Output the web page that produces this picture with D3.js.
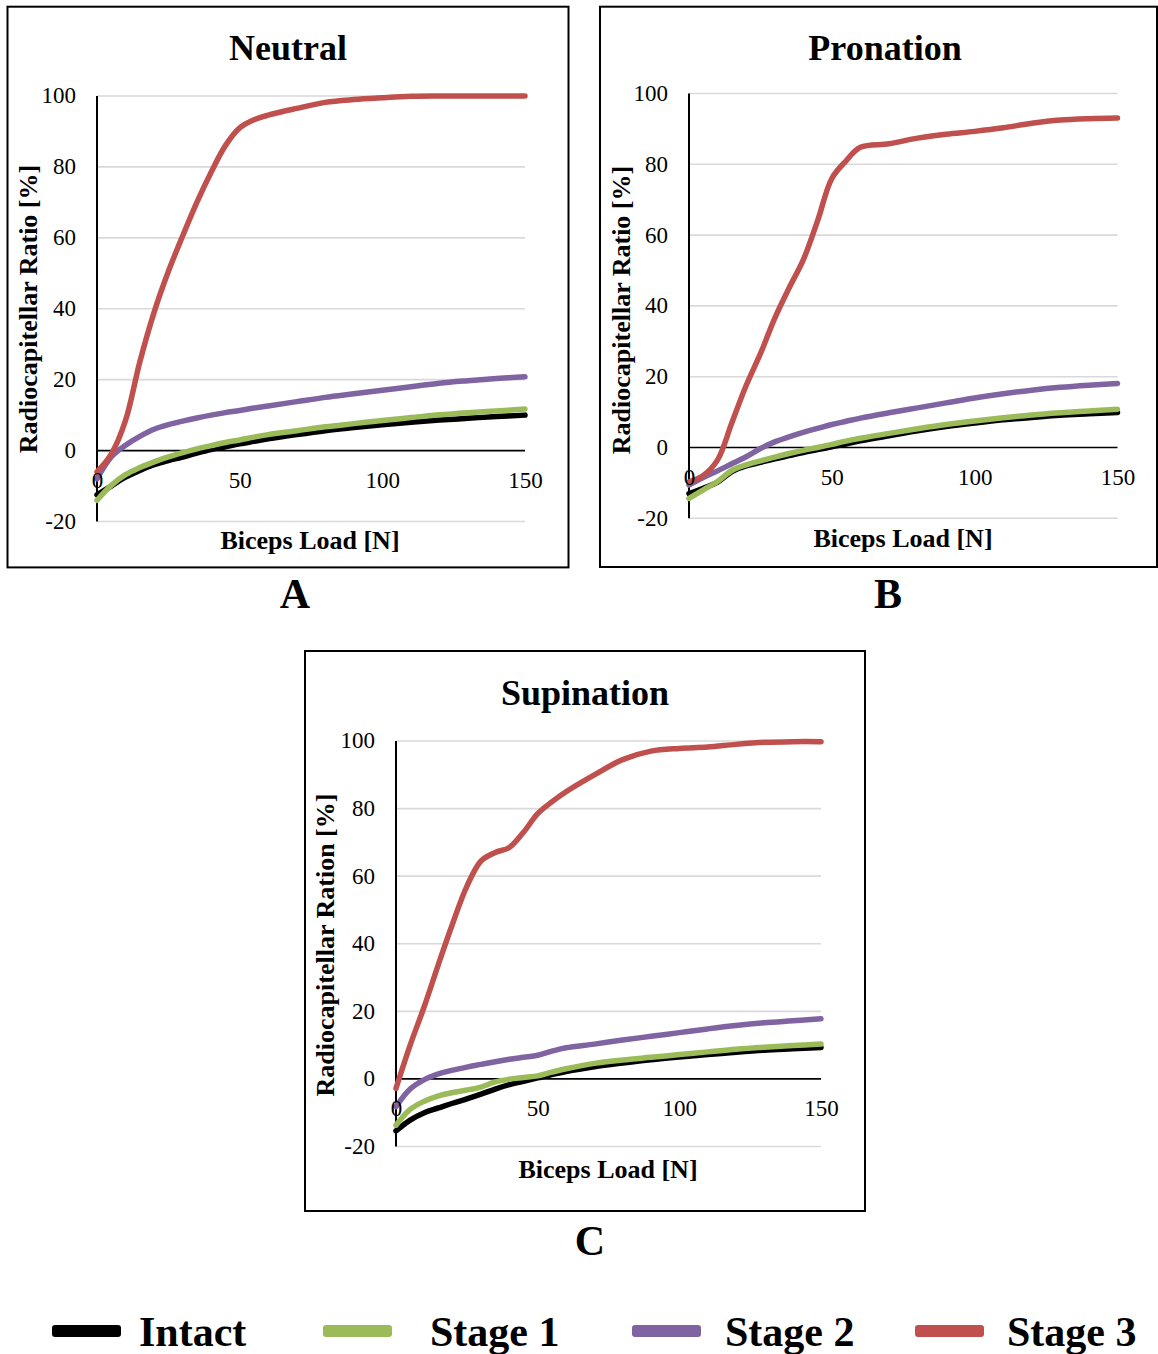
<!DOCTYPE html>
<html>
<head>
<meta charset="utf-8">
<script src="https://cdn.jsdelivr.net/npm/d3@7"></script>
<style>
    body { margin: 0; background: #fff; }
    text { font-family: "Liberation Serif", "Times New Roman", serif; fill: #000; }
</style>
</head>
<body>
<svg id="chart" width="1158" height="1354"></svg>
<script>
/*****************************************************************************
 *  Data
 */
var LOADS = [0, 5, 10, 15, 20, 25, 30, 35, 40, 45, 50, 55, 60, 70, 80, 90, 100, 110, 120, 130, 140, 150];
var X_TICKS = [0, 50, 100, 150];
var Y_TICKS = [-20, 0, 20, 40, 60, 80, 100];
var SERIES_NAMES = ["Intact", "Stage 1", "Stage 2", "Stage 3"];

// Neutral
var NEUTRAL_INTACT = [-12.5, -10, -7.5, -5.6, -4, -2.8, -1.8, -0.7, 0.3, 1.1, 1.9, 2.6, 3.3, 4.5, 5.6, 6.5, 7.3, 8, 8.6, 9.1, 9.6, 10];
var NEUTRAL_STAGE1 = [-14, -9.8, -6.8, -4.8, -3.2, -1.8, -0.6, 0.5, 1.4, 2.3, 3, 3.8, 4.5, 5.6, 6.7, 7.6, 8.5, 9.3, 10.1, 10.7, 11.2, 11.7];
var NEUTRAL_STAGE2 = [-8, -1.8, 1.5, 4, 6, 7.3, 8.3, 9.2, 10, 10.7, 11.3, 12, 12.6, 13.8, 15, 16, 17, 18, 19, 19.7, 20.3, 20.8];
var NEUTRAL_STAGE3 = [-6, -1, 8.5, 25, 39, 50.5, 60.5, 70, 78.5, 86, 91, 93.3, 94.6, 96.5, 98.2, 99, 99.5, 99.9, 100, 100, 100, 100];

// Pronation
var PRONATION_INTACT = [-13, -11.5, -9.8, -6.8, -5.2, -4.2, -3.2, -2.3, -1.4, -0.6, 0.2, 1, 1.9, 3.3, 4.7, 5.9, 6.9, 7.8, 8.5, 9.1, 9.5, 9.9];
var PRONATION_STAGE1 = [-14.4, -12, -9.6, -6.5, -4.9, -3.8, -2.7, -1.7, -0.8, 0, 0.9, 1.8, 2.6, 4, 5.3, 6.5, 7.5, 8.4, 9.2, 9.8, 10.3, 10.8];
var PRONATION_STAGE2 = [-10.6, -8.5, -6.6, -4.6, -2.6, -0.3, 1.6, 3, 4.3, 5.4, 6.5, 7.4, 8.3, 9.8, 11.2, 12.6, 14, 15.2, 16.2, 17, 17.6, 18.1];
var PRONATION_STAGE3 = [-9.7, -7.9, -3.5, 7, 17.5, 26.5, 36.5, 45, 53, 64, 76, 81, 84.8, 85.8, 87.4, 88.5, 89.3, 90.3, 91.6, 92.5, 92.9, 93.1];

// Supination
var SUPINATION_INTACT = [-15.4, -12.2, -10, -8.6, -7.2, -5.9, -4.5, -3, -1.7, -0.7, 0.3, 1.3, 2.2, 3.6, 4.7, 5.7, 6.5, 7.2, 7.9, 8.5, 8.9, 9.3];
var SUPINATION_STAGE1 = [-13.7, -9, -6.6, -5, -4, -3.3, -2.4, -0.9, -0.1, 0.4, 0.9, 2, 3, 4.6, 5.6, 6.4, 7.2, 8, 8.8, 9.4, 9.9, 10.3];
var SUPINATION_STAGE2 = [-8.2, -3, -0.2, 1.5, 2.6, 3.5, 4.3, 5.1, 5.8, 6.4, 7, 8.2, 9.2, 10.3, 11.5, 12.6, 13.7, 14.8, 15.8, 16.6, 17.2, 17.8];
var SUPINATION_STAGE3 = [-2.8, 10, 21.5, 34, 46, 57, 64.5, 67, 68.5, 73, 78.5, 82, 85, 90, 94.5, 97, 97.8, 98.2, 99, 99.6, 99.8, 99.8];

/*****************************************************************************
 *  Style constants
 */
var SERIES_COLORS = ["#000000", "#9BBB59", "#8064A2", "#C0504D"];
var LINE_WIDTH = 5.5;
var GRID_COLOR = "#d9d9d9";
var SERIF = "'Liberation Serif', 'Times New Roman', serif";
var TICK_FONT_SIZE = 23;
var AXIS_TITLE_SIZE = 26;
var PANEL_TITLE_SIZE = 36;
var LETTER_SIZE = 42;
var LEGEND_FONT_SIZE = 42;

var PANELS = [
    {
        title: "Neutral", letter: "A", yLabel: "Radiocapitellar Ratio [%]",
        series: [NEUTRAL_INTACT, NEUTRAL_STAGE1, NEUTRAL_STAGE2, NEUTRAL_STAGE3],
        frame: [7.5, 6.7, 568.5, 567.4],
        left: 97, right: 525, top: 96, bottom: 521.5,
        titleX: 288, titleY: 60, yLabelX: 37, yLabelY: 309,
        xLabelX: 310, xLabelY: 549, letterX: 295, letterY: 608
    },
    {
        title: "Pronation", letter: "B", yLabel: "Radiocapitellar Ratio [%]",
        series: [PRONATION_INTACT, PRONATION_STAGE1, PRONATION_STAGE2, PRONATION_STAGE3],
        frame: [600, 6.7, 1157, 567],
        left: 689, right: 1117.5, top: 93.5, bottom: 518.3,
        titleX: 885, titleY: 60, yLabelX: 630, yLabelY: 310,
        xLabelX: 903, xLabelY: 547, letterX: 888, letterY: 608
    },
    {
        title: "Supination", letter: "C", yLabel: "Radiocapitellar Ration [%]",
        series: [SUPINATION_INTACT, SUPINATION_STAGE1, SUPINATION_STAGE2, SUPINATION_STAGE3],
        frame: [305, 651, 865, 1211],
        left: 396, right: 821, top: 741, bottom: 1146.5,
        titleX: 585, titleY: 705, yLabelX: 333.5, yLabelY: 945,
        xLabelX: 608, xLabelY: 1178, letterX: 590, letterY: 1255
    }
];

var LEGEND_SWATCH_X = [52, 323, 632, 915];
var LEGEND_TEXT_X = [139, 430, 725, 1007];
var LEGEND_SWATCH_W = 69;
var LEGEND_Y = 1331;

var svg = d3.select("#chart");

svg.append("rect")
    .attr("width", 1158)
    .attr("height", 1354)
    .attr("fill", "#fff");

/*****************************************************************************
 *  Panel drawing
 */
function drawPanel(p) {
    var g = svg.append("g").attr("class", "panel");

    var xScale = d3.scaleLinear().domain([0, 150]).range([p.left, p.right]);
    var yScale = d3.scaleLinear().domain([-20, 100]).range([p.bottom, p.top]);

    // frame
    g.append("rect")
        .attr("x", p.frame[0])
        .attr("y", p.frame[1])
        .attr("width", p.frame[2] - p.frame[0])
        .attr("height", p.frame[3] - p.frame[1])
        .attr("fill", "none")
        .attr("stroke", "#000")
        .attr("stroke-width", 2);

    // horizontal gridlines (zero gets the black axis line instead)
    g.selectAll(".gridline")
        .data(Y_TICKS.filter(t => t !== 0))
        .enter()
        .append("line")
        .attr("class", "gridline")
        .attr("x1", p.left)
        .attr("x2", p.right)
        .attr("y1", d => yScale(d))
        .attr("y2", d => yScale(d))
        .attr("stroke", GRID_COLOR)
        .attr("stroke-width", 1.6);

    // y axis line + zero line
    g.append("line")
        .attr("x1", p.left).attr("x2", p.left)
        .attr("y1", yScale(100)).attr("y2", yScale(-20))
        .attr("stroke", "#000").attr("stroke-width", 2);
    g.append("line")
        .attr("x1", p.left).attr("x2", p.right)
        .attr("y1", yScale(0)).attr("y2", yScale(0))
        .attr("stroke", "#000").attr("stroke-width", 1.6);

    // series lines
    var lineGenerator = d3.line()
        .x((d, i) => xScale(LOADS[i]))
        .y(d => yScale(d))
        .curve(d3.curveCatmullRom.alpha(0.5));

    g.selectAll(".series-line")
        .data(p.series)
        .enter()
        .append("path")
        .attr("class", "series-line")
        .attr("d", d => lineGenerator(d))
        .attr("fill", "none")
        .attr("stroke", (d, i) => SERIES_COLORS[i])
        .attr("stroke-width", LINE_WIDTH)
        .attr("stroke-linejoin", "round")
        .attr("stroke-linecap", "round");

    // y tick labels (plain hyphen for negatives, like the original)
    var yAxis = g.append("g")
        .attr("transform", "translate(" + p.left + ",0)")
        .call(d3.axisLeft(yScale).tickValues(Y_TICKS).tickSize(0).tickPadding(21)
            .tickFormat(d => String(d)));
    yAxis.select(".domain").remove();
    yAxis.selectAll("text")
        .style("font-family", SERIF)
        .style("font-size", TICK_FONT_SIZE + "px")
        .attr("dy", "0.3em");

    // x tick labels, sitting under the zero line
    var xAxis = g.append("g")
        .attr("transform", "translate(0," + yScale(0) + ")")
        .call(d3.axisBottom(xScale).tickValues(X_TICKS).tickSize(0).tickPadding(21)
            .tickFormat(d => String(d)));
    xAxis.select(".domain").remove();
    xAxis.selectAll("text")
        .style("font-family", SERIF)
        .style("font-size", TICK_FONT_SIZE + "px");

    // titles
    g.append("text")
        .attr("x", p.titleX)
        .attr("y", p.titleY)
        .attr("text-anchor", "middle")
        .style("font-size", PANEL_TITLE_SIZE + "px")
        .style("font-weight", "bold")
        .text(p.title);

    g.append("text")
        .attr("transform", "translate(" + p.yLabelX + "," + p.yLabelY + ") rotate(-90)")
        .attr("text-anchor", "middle")
        .style("font-size", AXIS_TITLE_SIZE + "px")
        .style("font-weight", "bold")
        .text(p.yLabel);

    g.append("text")
        .attr("x", p.xLabelX)
        .attr("y", p.xLabelY)
        .attr("text-anchor", "middle")
        .style("font-size", AXIS_TITLE_SIZE + "px")
        .style("font-weight", "bold")
        .text("Biceps Load [N]");

    g.append("text")
        .attr("x", p.letterX)
        .attr("y", p.letterY)
        .attr("text-anchor", "middle")
        .style("font-size", LETTER_SIZE + "px")
        .style("font-weight", "bold")
        .text(p.letter);
}

PANELS.forEach(drawPanel);

/*****************************************************************************
 *  Legend
 */
var legend = svg.append("g").attr("class", "legend");

legend.selectAll("rect")
    .data(SERIES_NAMES)
    .enter()
    .append("rect")
    .attr("x", (d, i) => LEGEND_SWATCH_X[i])
    .attr("y", LEGEND_Y - 6)
    .attr("width", LEGEND_SWATCH_W)
    .attr("height", 12)
    .attr("rx", 3)
    .attr("ry", 3)
    .attr("fill", (d, i) => SERIES_COLORS[i]);

legend.selectAll("text")
    .data(SERIES_NAMES)
    .enter()
    .append("text")
    .attr("x", (d, i) => LEGEND_TEXT_X[i])
    .attr("y", 1346)
    .style("font-size", LEGEND_FONT_SIZE + "px")
    .style("font-weight", "bold")
    .text(d => d);
</script>
</body>
</html>
